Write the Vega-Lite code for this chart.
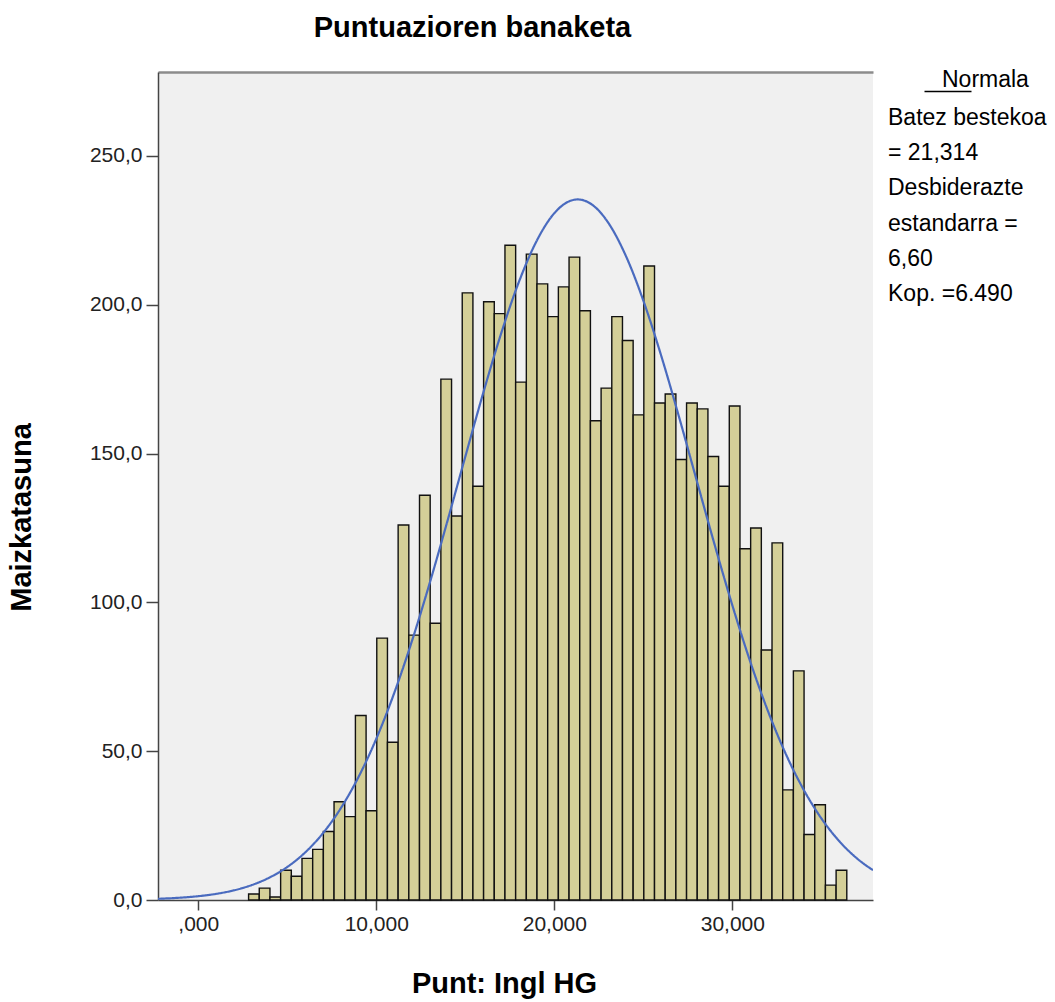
{
  "$schema": "https://vega.github.io/schema/vega-lite/v6.json",
  "width": 715,
  "height": 828,
  "autosize": {"type": "none"},
  "padding": {"left": 158, "top": 72, "right": 182, "bottom": 102},
  "background": "white",
  "title": {"text": "Puntuazioren banaketa", "font": "Liberation Sans", "fontSize": 29, "fontWeight": "bold", "color": "#000", "anchor": "middle", "frame": "group", "dx": -43, "offset": 29},
  "datasets": {
    "bars": [
      {"x0": 2.8, "x1": 3.4, "count": 2}, {"x0": 3.4, "x1": 4.0, "count": 4}, {"x0": 4.0, "x1": 4.6, "count": 1},
      {"x0": 4.6, "x1": 5.2, "count": 10}, {"x0": 5.2, "x1": 5.8, "count": 8}, {"x0": 5.8, "x1": 6.4, "count": 14},
      {"x0": 6.4, "x1": 7.0, "count": 17}, {"x0": 7.0, "x1": 7.6, "count": 23}, {"x0": 7.6, "x1": 8.2, "count": 33},
      {"x0": 8.2, "x1": 8.8, "count": 28}, {"x0": 8.8, "x1": 9.4, "count": 62}, {"x0": 9.4, "x1": 10.0, "count": 30},
      {"x0": 10.0, "x1": 10.6, "count": 88}, {"x0": 10.6, "x1": 11.2, "count": 53}, {"x0": 11.2, "x1": 11.8, "count": 126},
      {"x0": 11.8, "x1": 12.4, "count": 89}, {"x0": 12.4, "x1": 13.0, "count": 136}, {"x0": 13.0, "x1": 13.6, "count": 93},
      {"x0": 13.6, "x1": 14.2, "count": 175}, {"x0": 14.2, "x1": 14.8, "count": 129}, {"x0": 14.8, "x1": 15.4, "count": 204},
      {"x0": 15.4, "x1": 16.0, "count": 139}, {"x0": 16.0, "x1": 16.6, "count": 201}, {"x0": 16.6, "x1": 17.2, "count": 197},
      {"x0": 17.2, "x1": 17.8, "count": 220}, {"x0": 17.8, "x1": 18.4, "count": 174}, {"x0": 18.4, "x1": 19.0, "count": 217},
      {"x0": 19.0, "x1": 19.6, "count": 207}, {"x0": 19.6, "x1": 20.2, "count": 196}, {"x0": 20.2, "x1": 20.8, "count": 206},
      {"x0": 20.8, "x1": 21.4, "count": 216}, {"x0": 21.4, "x1": 22.0, "count": 198}, {"x0": 22.0, "x1": 22.6, "count": 161},
      {"x0": 22.6, "x1": 23.2, "count": 172}, {"x0": 23.2, "x1": 23.8, "count": 196}, {"x0": 23.8, "x1": 24.4, "count": 188},
      {"x0": 24.4, "x1": 25.0, "count": 163}, {"x0": 25.0, "x1": 25.6, "count": 213}, {"x0": 25.6, "x1": 26.2, "count": 167},
      {"x0": 26.2, "x1": 26.8, "count": 170}, {"x0": 26.8, "x1": 27.4, "count": 148}, {"x0": 27.4, "x1": 28.0, "count": 167},
      {"x0": 28.0, "x1": 28.6, "count": 165}, {"x0": 28.6, "x1": 29.2, "count": 149}, {"x0": 29.2, "x1": 29.8, "count": 139},
      {"x0": 29.8, "x1": 30.4, "count": 166}, {"x0": 30.4, "x1": 31.0, "count": 118}, {"x0": 31.0, "x1": 31.6, "count": 125},
      {"x0": 31.6, "x1": 32.2, "count": 84}, {"x0": 32.2, "x1": 32.8, "count": 120}, {"x0": 32.8, "x1": 33.4, "count": 37},
      {"x0": 33.4, "x1": 34.0, "count": 77}, {"x0": 34.0, "x1": 34.6, "count": 22}, {"x0": 34.6, "x1": 35.2, "count": 32},
      {"x0": 35.2, "x1": 35.8, "count": 5}, {"x0": 35.8, "x1": 36.4, "count": 10}
    ],
    "curve": [
      {"x": -2.26, "y": 0.4}, {"x": -1, "y": 0.78}, {"x": 0, "y": 1.28}, {"x": 1, "y": 2.06}, {"x": 2, "y": 3.25},
      {"x": 3, "y": 5.01}, {"x": 4, "y": 7.54}, {"x": 5, "y": 11.09}, {"x": 6, "y": 15.95}, {"x": 7, "y": 22.41},
      {"x": 8, "y": 30.77}, {"x": 9, "y": 41.3}, {"x": 10, "y": 54.16}, {"x": 11, "y": 69.41}, {"x": 12, "y": 86.95},
      {"x": 13, "y": 106.46}, {"x": 14, "y": 127.38}, {"x": 15, "y": 148.94}, {"x": 16, "y": 170.22}, {"x": 17, "y": 190.1},
      {"x": 18, "y": 207.5}, {"x": 19, "y": 221.35}, {"x": 20, "y": 230.76}, {"x": 21, "y": 235.11}, {"x": 21.314, "y": 235.38},
      {"x": 22, "y": 234.11}, {"x": 23, "y": 227.82}, {"x": 24, "y": 216.67}, {"x": 25, "y": 201.39}, {"x": 26, "y": 182.95},
      {"x": 27, "y": 162.41}, {"x": 28, "y": 140.9}, {"x": 29, "y": 119.47}, {"x": 30, "y": 99.01}, {"x": 31, "y": 80.18},
      {"x": 32, "y": 63.47}, {"x": 33, "y": 49.1}, {"x": 34, "y": 37.12}, {"x": 35, "y": 27.42}, {"x": 36, "y": 19.8},
      {"x": 37, "y": 13.97}, {"x": 37.9, "y": 10.01}
    ]
  },
  "resolve": {"axis": {"x": "independent"}},
  "layer": [
    {
      "data": {"name": "bars"},
      "mark": {"type": "bar", "fill": "#d4cf98", "stroke": "#111", "strokeWidth": 1.4, "binSpacing": 0},
      "encoding": {
        "x": {
          "field": "x0", "type": "quantitative", "bin": "binned",
          "scale": {"domain": [-2.26, 37.9], "nice": false, "zero": false},
          "axis": {
            "orient": "bottom", "values": [0, 10, 20, 30],
            "labelExpr": "datum.value === 0 ? ',000' : replace(format(datum.value, '.3f'), '.', ',')",
            "tickSize": 10, "labelPadding": 3, "title": "Punt: Ingl HG", "titlePadding": 35, "titleX": 346, "titleFontSize": 29
          }
        },
        "x2": {"field": "x1"},
        "y": {
          "field": "count", "type": "quantitative",
          "scale": {"domain": [0, 278.2], "nice": false},
          "axis": {
            "values": [0, 50, 100, 150, 200, 250],
            "labelExpr": "replace(format(datum.value, '.1f'), '.', ',')",
            "tickSize": 12, "labelPadding": 4, "title": "Maizkatasuna", "titlePadding": 53, "titleY": 445, "titleFontSize": 29
          }
        }
      }
    },
    {
      "data": {"name": "curve"},
      "mark": {"type": "line", "interpolate": "monotone", "strokeWidth": 2.2, "stroke": "#4a6bbf", "clip": true},
      "encoding": {
        "x": {
          "field": "x", "type": "quantitative",
          "axis": {"orient": "top", "labels": false, "ticks": false, "title": null, "domainColor": "#8c8c8c", "domainWidth": 2.5}
        },
        "y": {"field": "y", "type": "quantitative"},
        "strokeDash": {
          "datum": "Normala", "type": "nominal",
          "scale": {
            "domain": ["Normala", "Batez bestekoa", "= 21,314", "Desbiderazte", "estandarra =", "6,60", "Kop. =6.490"],
            "range": [[1, 0], [1, 0], [1, 0], [1, 0], [1, 0], [1, 0], [1, 0]]
          },
          "legend": {
            "orient": "right", "offset": 12, "title": null, "padding": 0,
            "symbolType": "M28,8H75", "symbolSize": 4, "symbolStrokeColor": "#000", "symbolStrokeWidth": 1.5,
            "symbolFillColor": "transparent",
            "labelFont": "Liberation Sans", "labelFontSize": 23, "labelColor": "#000", "labelLimit": 300,
            "labelOffset": -20, "rowPadding": 11.3,
            "encode": {
              "symbols": {"update": {"opacity": {"signal": "datum.value === 'Normala' ? 1 : 0"}}},
              "labels": {"update": {"dx": {"signal": "datum.value === 'Normala' ? 54 : 0"}, "dy": {"value": -4}}}
            }
          }
        }
      }
    }
  ],
  "config": {
    "view": {"stroke": null, "fill": "#f0f0f0"},
    "axis": {
      "grid": false, "labelFont": "Liberation Sans", "labelFontSize": 21, "labelColor": "#222",
      "domainColor": "#444", "domainWidth": 1.5, "tickColor": "#444", "tickWidth": 1.5,
      "titleFont": "Liberation Sans", "titleFontSize": 29, "titleFontWeight": "bold", "titleColor": "#000"
    }
  }
}
